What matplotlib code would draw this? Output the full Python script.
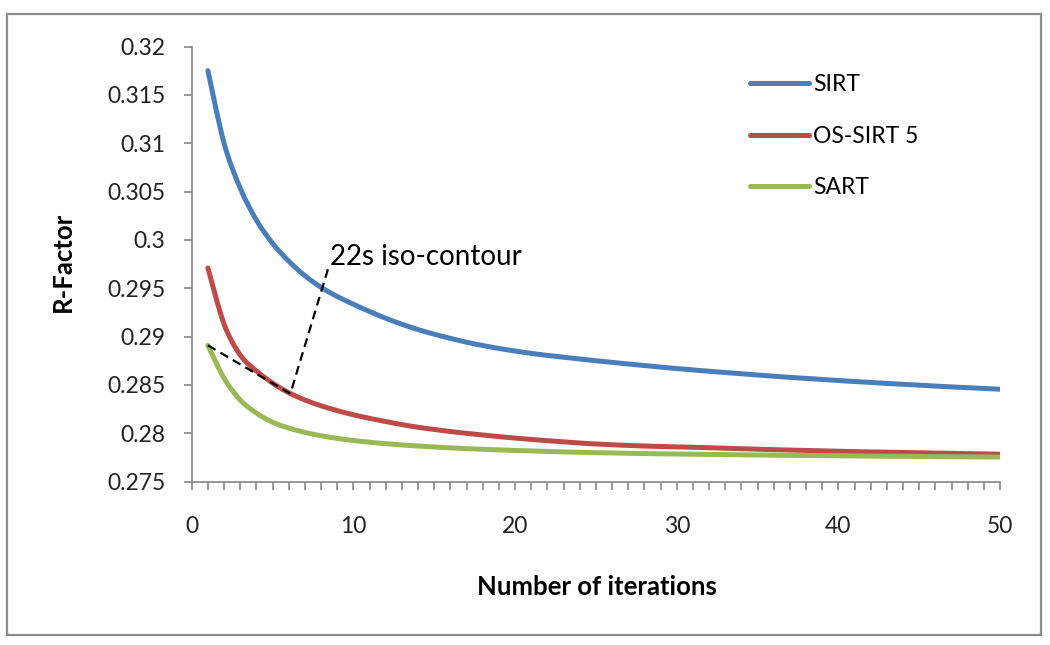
"""R-Factor vs number of iterations for SIRT, OS-SIRT 5 and SART"""
import matplotlib
matplotlib.use('Agg')
import matplotlib.pyplot as plt
from matplotlib.patches import Rectangle, PathPatch
from matplotlib.path import Path
from matplotlib.lines import Line2D
from matplotlib.ticker import MultipleLocator

plt.rcParams['font.family'] = ['Lato', 'DejaVu Sans']

iterations = list(range(1, 51))

sirt = [0.31750, 0.31000, 0.30535, 0.30205, 0.29965, 0.29780, 0.29630, 0.29510, 0.29415, 0.29335,
        0.29260, 0.29190, 0.29128, 0.29073, 0.29025, 0.28982, 0.28942, 0.28908, 0.28878, 0.28851,
        0.28827, 0.28806, 0.28787, 0.28769, 0.28751, 0.28734, 0.28717, 0.28701, 0.28685, 0.28670,
        0.28656, 0.28642, 0.28629, 0.28616, 0.28603, 0.28591, 0.28579, 0.28568, 0.28557, 0.28546,
        0.28536, 0.28526, 0.28516, 0.28507, 0.28498, 0.28489, 0.28480, 0.28472, 0.28464, 0.28456]

os_sirt5 = [0.29710, 0.29130, 0.28810, 0.28645, 0.28520, 0.28420, 0.28345, 0.28285, 0.28235, 0.28192,
            0.28155, 0.28122, 0.28090, 0.28063, 0.28040, 0.28019, 0.28000, 0.27983, 0.27966, 0.27951,
            0.27937, 0.27924, 0.27912, 0.27900, 0.27890, 0.27882, 0.27875, 0.27869, 0.27864, 0.27860,
            0.27856, 0.27851, 0.27846, 0.27841, 0.27836, 0.27831, 0.27827, 0.27823, 0.27819, 0.27815,
            0.27811, 0.27808, 0.27805, 0.27802, 0.27799, 0.27796, 0.27793, 0.27790, 0.27787, 0.27784]

sart = [0.28910, 0.28570, 0.28345, 0.28210, 0.28115, 0.28055, 0.28010, 0.27975, 0.27948, 0.27926,
        0.27908, 0.27893, 0.27880, 0.27869, 0.27859, 0.27850, 0.27842, 0.27835, 0.27829, 0.27823,
        0.27818, 0.27813, 0.27808, 0.27804, 0.27800, 0.27797, 0.27794, 0.27791, 0.27788, 0.27786,
        0.27784, 0.27782, 0.27780, 0.27778, 0.27776, 0.27774, 0.27772, 0.27771, 0.27769, 0.27768,
        0.27766, 0.27765, 0.27763, 0.27762, 0.27761, 0.27759, 0.27758, 0.27757, 0.27756, 0.27755]

series_names = ['SIRT', 'OS-SIRT 5', 'SART']
series_colors = ['#4a7ebb', '#be4b48', '#98b954']

# iso-contour polyline (iteration, R-factor)
iso_x = [1, 6.1, 8.45]
iso_y = [0.2891, 0.2841, 0.2971]
iso_label = '22s iso-contour'


def smooth_path(x, y):
    """Excel-like smoothed line: Catmull-Rom segments as cubic Bezier curves"""
    verts = [(x[0], y[0])]
    codes = [Path.MOVETO]
    n = len(x)
    for i in range(n - 1):
        i0, i3 = max(i - 1, 0), min(i + 2, n - 1)
        c1 = (x[i] + (x[i + 1] - x[i0]) / 6, y[i] + (y[i + 1] - y[i0]) / 6)
        c2 = (x[i + 1] - (x[i3] - x[i]) / 6, y[i + 1] - (y[i3] - y[i]) / 6)
        verts += [c1, c2, (x[i + 1], y[i + 1])]
        codes += [Path.CURVE4] * 3
    return Path(verts, codes)


fig = plt.figure(figsize=(10.5, 6.45), dpi=100)
ax = fig.add_axes([0.1826, 0.2532, 0.7698, 0.6747])

# outer chart border
fig.patches.append(Rectangle((0.0067, 0.0155), 0.9843, 0.963, transform=fig.transFigure,
                             fill=False, edgecolor='#8c8c8c', linewidth=1.6))

lw = 3.6
handles = []
for vals, name, col in zip([sirt, os_sirt5, sart], series_names, series_colors):
    ax.add_patch(PathPatch(smooth_path(iterations, vals), fill=False, edgecolor=col,
                           linewidth=lw, capstyle='round', joinstyle='round'))
    handles.append(Line2D([], [], color=col, linewidth=lw, solid_capstyle='round', label=name))

ax.plot(iso_x, iso_y, color='black', linewidth=1.6, linestyle=(0, (4, 2.5)), zorder=5)
ax.text(8.55, 0.2974, iso_label, fontsize=20, va='baseline', ha='left')

ax.set_xlim(0, 50)
ax.set_ylim(0.275, 0.32)
ax.xaxis.set_major_locator(MultipleLocator(10))
ax.xaxis.set_minor_locator(MultipleLocator(1))
ax.yaxis.set_major_locator(MultipleLocator(0.005))
ax.set_yticks(ax.get_yticks())
ax.set_yticklabels([f'{v:g}' for v in ax.get_yticks()])
ax.set_ylim(0.275, 0.32)

for s in ['top', 'right']:
    ax.spines[s].set_visible(False)
for s in ['left', 'bottom']:
    ax.spines[s].set_color('#868686')
    ax.spines[s].set_linewidth(1.2)

ax.tick_params(axis='both', which='both', direction='out', color='#868686', width=1.2,
               labelsize=16.5, labelcolor='#222222')
ax.tick_params(axis='y', length=6, pad=13)
ax.tick_params(axis='x', which='both', length=6, pad=19)

ax.set_xlabel('Number of iterations', fontsize=18.5, fontweight='bold')
ax.xaxis.set_label_coords(0.501, -0.242)
ax.xaxis.label.set_va('center')
ax.set_ylabel('R-Factor', fontsize=18.5, fontweight='bold')
ax.yaxis.set_label_coords(-0.160, 0.505)
ax.yaxis.label.set_va('center')

ax.legend(handles=handles, loc='upper left', bbox_to_anchor=(0.676, 0.962), frameon=False,
          fontsize=16.5, borderpad=0, handlelength=2.6, handletextpad=0.17, labelspacing=1.32)

plt.savefig('out.png', dpi=100, facecolor='white')
plt.close()
